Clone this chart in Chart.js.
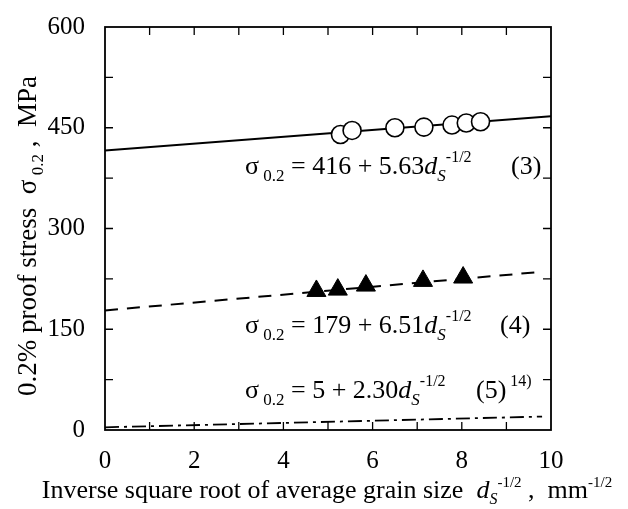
<!DOCTYPE html>
<html><head><meta charset="utf-8">
<script src="https://cdn.jsdelivr.net/npm/chart.js@4.4.0/dist/chart.umd.min.js"></script>
<style>html,body{margin:0;padding:0;background:#fff}#wrap{width:628px;height:509px}</style>
</head><body><div id="wrap"><canvas id="c"></canvas></div>
<script>
// data
const circleX=[5.28,5.54,6.5,7.15,7.78,8.1,8.42]
const circleY=[440,446,450,451,454,457,459]
const triX=[4.74,5.22,5.85,7.13,8.03]
const triY=[207,209,215,222,227]
const fit3X=[0,10], fit3Y=[416,467]
const fit4X=[0,9.7], fit4Y=[178,235]
const fit5X=[0,9.8], fit5Y=[4,20]
const xTicks=[0,2,4,6,8,10]
const yTicks=[0,150,300,450,600]

const FONT='"Liberation Serif", "Times New Roman", serif'
const pts=(xs,ys)=>xs.map((x,i)=>({x:x,y:ys[i]}))

// draws text pieces: [text, size, dy, italic]
function rich(ctx,segs,x,y,measureOnly){
  let cx=x
  segs.forEach(s=>{
    ctx.font=(s[3]?'italic ':'')+s[1]+'px '+FONT
    if(!measureOnly) ctx.fillText(s[0],cx,y+s[2])
    cx+=ctx.measureText(s[0]).width
  })
  return cx-x
}

const eq=(a,b)=>[['σ',26,0],[' 0.2',17,7],[' = '+a+' + '+b,26,0],['d',26,0,true],['S',17,7,true],['-1/2',16,-12]]

const decor={
  id:'decor',
  afterDraw(chart){
    const ctx=chart.ctx, a=chart.chartArea, xs=chart.scales.x, ys=chart.scales.y
    ctx.save()
    ctx.strokeStyle='#000'; ctx.lineWidth=1.8
    ctx.strokeRect(a.left,a.top,a.right-a.left,a.bottom-a.top)
    ctx.lineWidth=1.3
    for(let v=1;v<10;v++){
      const px=xs.getPixelForValue(v)
      ctx.beginPath();ctx.moveTo(px,a.bottom);ctx.lineTo(px,a.bottom-8)
      ctx.moveTo(px,a.top);ctx.lineTo(px,a.top+8);ctx.stroke()
    }
    for(let v=75;v<600;v+=75){
      const py=ys.getPixelForValue(v)
      ctx.beginPath();ctx.moveTo(a.left,py);ctx.lineTo(a.left+8,py)
      ctx.moveTo(a.right,py);ctx.lineTo(a.right-8,py);ctx.stroke()
    }
    ctx.fillStyle='#000'; ctx.textBaseline='alphabetic'; ctx.textAlign='left'
    // equations
    rich(ctx,eq('416','5.63'),245,174); rich(ctx,[['(3)',26,0]],511,174)
    rich(ctx,eq('179','6.51'),245,333); rich(ctx,[['(4)',26,0]],500,333)
    rich(ctx,eq('5','2.30'),245,398); rich(ctx,[['(5)',26,0],[' 14)',16,-12]],476,398)
    // x title
    const xt=[['Inverse square root of average grain size  ',26,0],['d',26,0,true],['S',16,6,true],['-1/2',15,-11],[' ,  mm',26,0],['-1/2',15,-11]]
    const xw=rich(ctx,xt,0,0,true)
    rich(ctx,xt,327-xw/2,498)
    // y title
    const yt=[['0.2% proof stress  ',27,0],['σ',27,0],[' 0.2',17,7],[' ,  MPa',27,0]]
    const yw=rich(ctx,yt,0,0,true)
    ctx.translate(36,236); ctx.rotate(-Math.PI/2)
    rich(ctx,yt,-yw/2,0)
    ctx.restore()
  }
}

new Chart(document.getElementById('c'),{
  type:'scatter',
  data:{datasets:[
    {data:pts(fit3X,fit3Y),showLine:true,borderColor:'#000',borderWidth:2,pointRadius:0,order:3},
    {data:pts(fit4X,fit4Y),showLine:true,borderColor:'#000',borderWidth:2,borderDash:[13,9],pointRadius:0,order:3},
    {data:pts(fit5X,fit5Y),showLine:true,borderColor:'#000',borderWidth:1.8,borderDash:[14,5,3,5],pointRadius:0,order:3},
    {data:pts(circleX,circleY),pointStyle:'circle',pointRadius:9,backgroundColor:'#fff',borderColor:'#000',borderWidth:1.6,order:1},
    {data:pts(triX,triY),pointStyle:'triangle',pointRadius:11,backgroundColor:'#000',borderColor:'#000',borderWidth:1,order:1}
  ]},
  options:{
    responsive:true,maintainAspectRatio:false,animation:false,
    layout:{padding:{top:27,right:77,left:0,bottom:0}},
    plugins:{legend:{display:false},tooltip:{enabled:false}},
    scales:{
      x:{type:'linear',min:0,max:10,
        afterBuildTicks:s=>{s.ticks=xTicks.map(v=>({value:v}))},
        afterFit:s=>{s.height=79},
        grid:{display:false},border:{display:false},
        ticks:{color:'#000',padding:8,font:{family:FONT,size:25}}},
      y:{type:'linear',min:0,max:600,
        afterBuildTicks:s=>{s.ticks=yTicks.map(v=>({value:v}))},
        afterFit:s=>{s.width=105},
        grid:{display:false},border:{display:false},
        ticks:{color:'#000',padding:12,font:{family:FONT,size:25}}}
    }
  },
  plugins:[decor]
})
</script></body></html>
